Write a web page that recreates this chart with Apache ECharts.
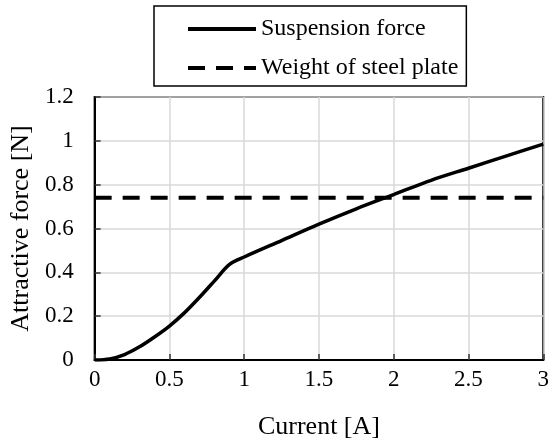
<!DOCTYPE html>
<html>
<head>
<meta charset="utf-8">
<script src="https://cdn.jsdelivr.net/npm/echarts@6/dist/echarts.min.js"></script>
<style>
  html, body { margin: 0; padding: 0; background: #fff; }
  #chart { width: 552px; height: 445px; }
</style>
</head>
<body>
<div id="chart"></div>
<script>
// values
const current = [0, 0.1, 0.2, 0.3, 0.4, 0.5, 0.6, 0.7, 0.8, 0.9, 1.0, 1.25, 1.5, 1.75, 2.0, 2.25, 2.5, 2.75, 3.0];
const force = [0, 0.005, 0.025, 0.06, 0.105, 0.155, 0.215, 0.285, 0.36, 0.435, 0.47, 0.545, 0.62, 0.69, 0.755, 0.82, 0.875, 0.93, 0.985];
const plateWeight = 0.74;
const plateRange = [0, 3];
const seriesNames = ['Suspension force', 'Weight of steel plate'];

const font = 'Liberation Serif, Times New Roman, serif';

const chart = echarts.init(document.getElementById('chart'));
chart.setOption({
    animation: false,
    backgroundColor: '#fff',
    grid: { left: 93, right: 5, top: 97, bottom: 85, show: true, borderColor: '#000', borderWidth: 2 },
    legend: {
        data: seriesNames,
        orient: 'vertical',
        left: 154, top: 6,
        padding: [11, 8, 6, 32],
        itemGap: 15,
        itemWidth: 68, itemHeight: 14,
        borderColor: '#000', borderWidth: 1.5,
        itemStyle: { opacity: 0 },
        lineStyle: { width: 4 },
        textStyle: { fontFamily: font, fontSize: 24, color: '#000' }
    },
    xAxis: {
        type: 'value', min: 0, max: 3, interval: 0.5,
        name: 'Current [A]', nameLocation: 'middle', nameGap: 54,
        nameTextStyle: { fontFamily: font, fontSize: 26, color: '#000' },
        axisLine: { lineStyle: { color: '#000', width: 2 } },
        axisTick: { show: true, inside: true, length: 6, lineStyle: { color: '#333', width: 1.5 } },
        axisLabel: { fontFamily: font, fontSize: 23, color: '#000', margin: 8 },
        splitLine: { lineStyle: { color: '#d9d9d9', width: 1.5 } }
    },
    yAxis: {
        type: 'value', min: 0, max: 1.2, interval: 0.2,
        name: 'Attractive force [N]', nameLocation: 'middle', nameGap: 56,
        nameTextStyle: { fontFamily: font, fontSize: 26, color: '#000' },
        axisLine: { show: true, lineStyle: { color: '#000', width: 2 } },
        axisTick: { show: true, inside: true, length: 6, lineStyle: { color: '#333', width: 1.5 } },
        axisLabel: { fontFamily: font, fontSize: 23, color: '#000', margin: 21 },
        splitLine: { lineStyle: { color: '#d9d9d9', width: 1.5 } }
    },
    series: [
        {
            name: seriesNames[0],
            type: 'line',
            data: current.map((c, i) => [c, force[i]]),
            smooth: 0.3,
            symbol: 'none',
            lineStyle: { color: '#000', width: 3.5 },
            itemStyle: { color: '#000' }
        },
        {
            name: seriesNames[1],
            type: 'line',
            data: plateRange.map(c => [c, plateWeight]),
            symbol: 'none',
            lineStyle: { color: '#000', width: 4, type: [17, 11] },
            itemStyle: { color: '#000' }
        }
    ]
});
</script>
</body>
</html>
